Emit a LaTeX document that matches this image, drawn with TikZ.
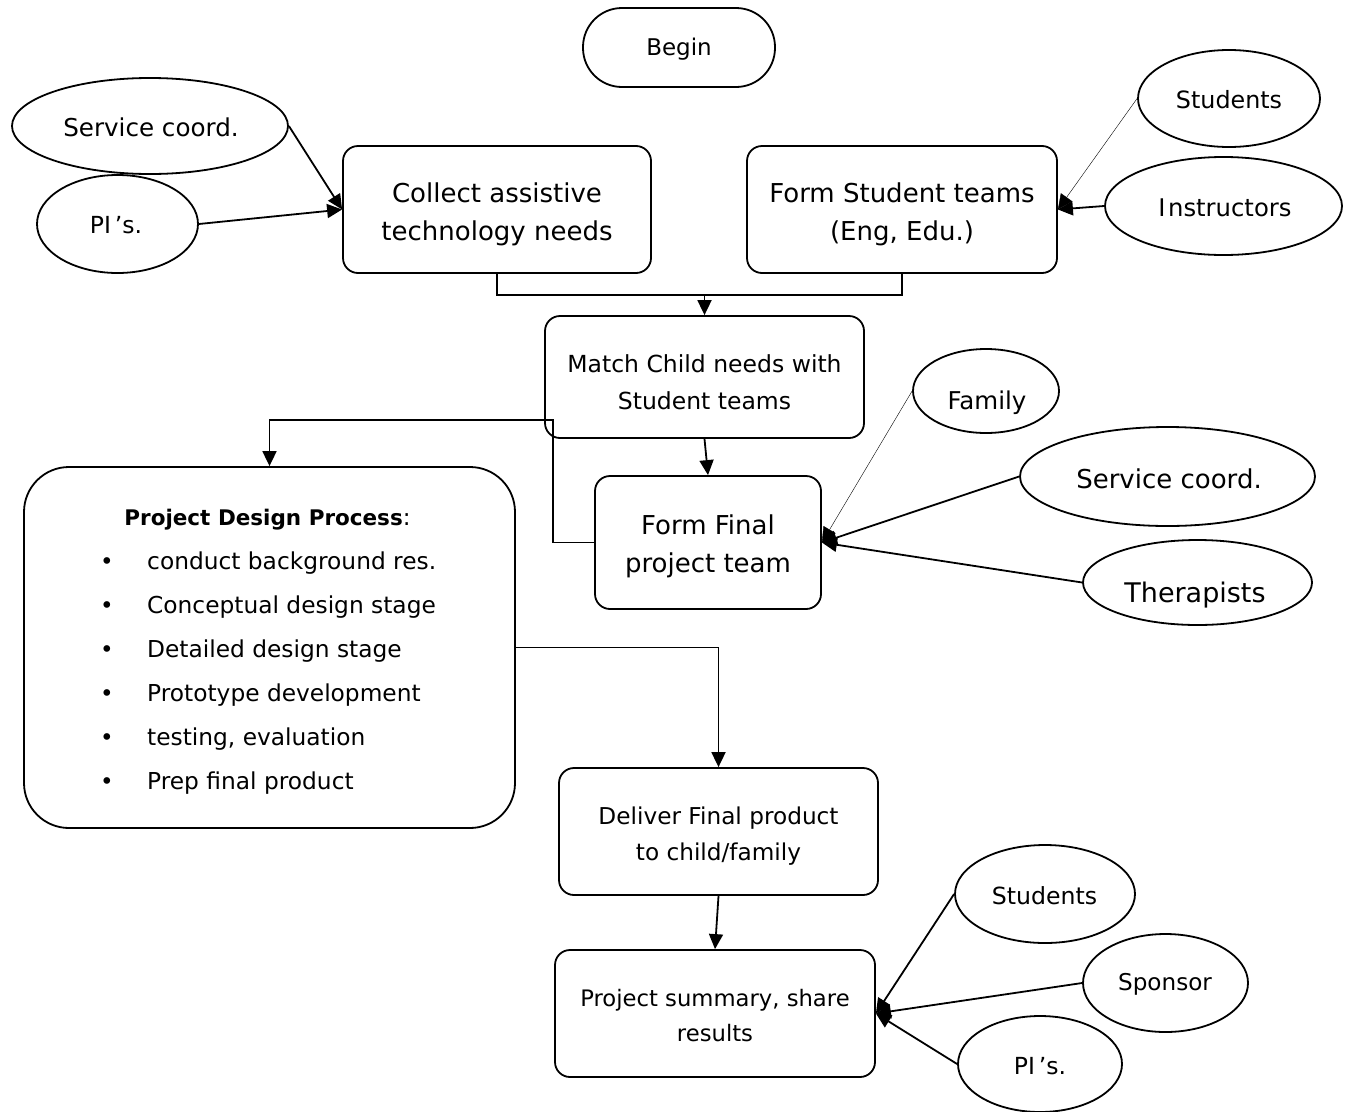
\documentclass[tikz,border=0pt]{standalone}
\usepackage{fontspec}
\setmainfont{DejaVu Sans}
\usetikzlibrary{arrows.meta,shapes.geometric,calc}
\tikzset{
  boxnode/.style={draw,line width=1.8pt,rounded corners=15pt,inner sep=0pt},
  txt/.style={align=center,inner sep=0pt},
  ellnode/.style={draw,ellipse,line width=1.8pt,inner sep=0pt,align=center},
  arr/.style={line width=1.8pt,-{Triangle[length=15pt,width=14pt]}},
  thinarr/.style={line width=0.4pt,-{Triangle[length=15pt,width=14pt]}},
  plain/.style={line width=1.8pt},
  big/.style={font=\fontsize{26}{38}\selectfont},
  mid/.style={font=\fontsize{23.5}{37}\selectfont},
  sm/.style={font=\fontsize{23}{35}\selectfont},
  fs/.style={font=\fontsize{#1}{#1}\selectfont},
}
\begin{document}
\begin{tikzpicture}[x=1pt,y=-1pt]
\useasboundingbox (0,0) rectangle (1348,1111);
% boxes
\node[boxnode,rounded corners=39pt,minimum width=192pt,minimum height=79pt] (begin) at (679,47.5) {};
\node[txt,sm] (begint) at (679,49.5) {Begin};
\node[boxnode,minimum width=308pt,minimum height=127pt] (collect) at (497,209.5) {};
\node[txt,big] (collectt) at (497,214) {Collect assistive\\technology needs};
\node[boxnode,minimum width=310pt,minimum height=127pt] (formst) at (902,209.5) {};
\node[txt,big] (formstt) at (902,214) {Form Student teams\\(Eng, Edu.)};
\node[boxnode,minimum width=319pt,minimum height=122pt] (match) at (704.5,377) {};
\node[txt,mid] (matcht) at (704.5,382) {Match Child needs with\\Student teams};
\node[boxnode,minimum width=226pt,minimum height=133pt] (final) at (708,542.5) {};
\node[txt,big] (finalt) at (708,546.5) {Form Final\\project team};
\node[boxnode,rounded corners=45pt,minimum width=491pt,minimum height=361pt] (proj) at (269.5,647.5) {};
\node[boxnode,minimum width=319pt,minimum height=127pt] (deliver) at (718.5,831.5) {};
\node[txt,font=\fontsize{23.2}{36}\selectfont] (delivert) at (718.5,836.5) {Deliver Final product\\to child/family};
\node[boxnode,minimum width=320pt,minimum height=127pt] (summary) at (715,1013.5) {};
\node[txt,font=\fontsize{22.7}{35}\selectfont] (summaryt) at (715,1015.5) {Project summary, share\\results};
% project design text
\node[anchor=mid,font=\fontsize{23}{30}\selectfont,inner sep=0pt] (ptitle) at (267.5,523) {{\fontsize{21.5}{30}\selectfont\bfseries Project Design Process}:};
\foreach \i/\t in {1/conduct background res.,2/Conceptual design stage,3/Detailed design stage,4/Prototype development,5/{testing, evaluation},6/Prep final product}{
  \node[anchor=mid,font=\fontsize{23}{30}\selectfont,inner sep=0pt] (bul\i) at (107,{523+44*\i}) {\textbullet};
  \node[anchor=mid west,font=\fontsize{23.3}{30}\selectfont,inner sep=0pt] (item\i) at (147,{523+44*\i}) {\t};
}
% ellipses
\node[ellnode,minimum width=276pt,minimum height=96pt] (sc1) at (150,126) {};
\node[txt,fs=24.6] (sc1t) at (151,127) {Service coord.};
\node[ellnode,minimum width=161pt,minimum height=98pt] (pi1) at (117.5,224) {};
\node[txt,fs=23.5] (pi1t) at (116,225) {PI\,’s.};
\node[ellnode,minimum width=182pt,minimum height=97pt] (st1) at (1229,98.5) {};
\node[txt,fs=23.8] (st1t) at (1229,100) {Students};
\node[ellnode,minimum width=237pt,minimum height=98pt] (ins) at (1223.5,206) {};
\node[txt,fs=24.3] (inst) at (1225,208) {I\kern2.5pt nstructors};
\node[ellnode,minimum width=146pt,minimum height=84pt] (fam) at (986,391) {};
\node[txt,fs=24.5] (famt) at (987,403) {Family};
\node[ellnode,minimum width=295pt,minimum height=99pt] (sc2) at (1167.5,476.5) {};
\node[txt,fs=26] (sc2t) at (1169,479) {Service coord.};
\node[ellnode,minimum width=229pt,minimum height=85pt] (ther) at (1197.5,582.5) {};
\node[txt,fs=27] (thert) at (1195,595) {Therapists};
\node[ellnode,minimum width=180pt,minimum height=98pt] (st2) at (1045,894) {};
\node[txt,fs=23.6] (st2t) at (1044.5,896) {Students};
\node[ellnode,minimum width=165pt,minimum height=98pt] (spon) at (1165.5,983) {};
\node[txt,fs=23.1] (spont) at (1165,984) {Sponsor};
\node[ellnode,minimum width=164pt,minimum height=96pt] (pi2) at (1040,1064) {};
\node[txt,fs=23.5] (pi2t) at (1040,1066) {PI\,’s.};
% connectors
\draw[arr] (sc1.east) -- (collect.west);
\draw[arr] (pi1.east) -- (collect.west);
\draw[thinarr] (st1.west) -- (formst.east);
\draw[arr] (ins.west) -- (formst.east);
\coordinate (jn) at ($(collect.south)+(0,21)$);
\draw[plain] (collect.south) -- (jn) -| (formst.south);
\draw[arr] (match.north |- jn) -- (match.north);
\draw[arr] (match.south) -- (final.north);
\draw[arr] (final.west) -- ++(-41,0) -- ++(0,-122.5) -| (proj.north);
\draw[arr] (proj.east) -| (deliver.north);
\draw[arr] (deliver.south) -- (summary.north);
\draw[thinarr] (fam.west) -- (final.east);
\draw[arr] (sc2.west) -- (final.east);
\draw[arr] (ther.west) -- (final.east);
\draw[arr] (st2.west) -- (summary.east);
\draw[arr] (spon.west) -- (summary.east);
\draw[arr] (pi2.west) -- (summary.east);
\end{tikzpicture}
\end{document}
